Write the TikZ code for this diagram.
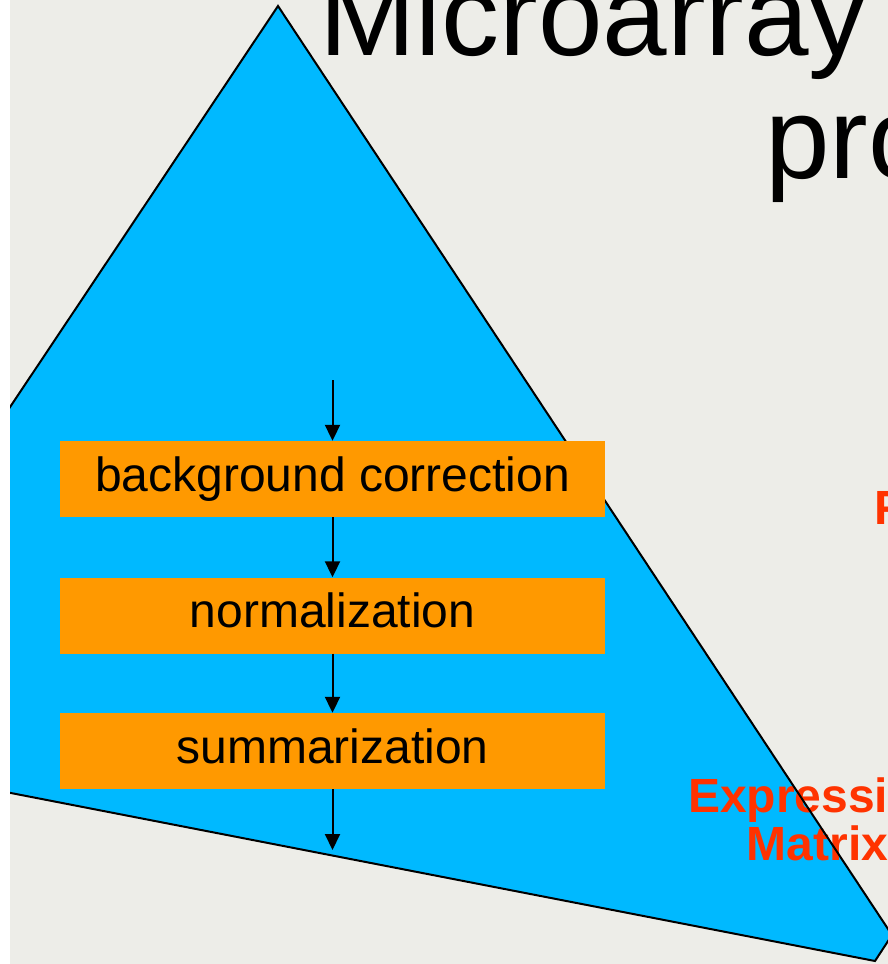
\documentclass[tikz,border=0pt]{standalone}
\usepackage{fontspec}
\setmainfont{Liberation Sans}
\usetikzlibrary{arrows.meta}

\definecolor{pagegray}{RGB}{237,237,232}
\definecolor{skyblue}{RGB}{0,185,255}
\definecolor{boxorange}{RGB}{255,153,0}
\definecolor{labelred}{RGB}{255,51,0}

\tikzset{
  stagebox/.style={fill=boxorange, minimum width=545pt, minimum height=76pt,
    inner sep=0pt, text height=34pt, text depth=10pt,
    font=\fontsize{48}{52}\selectfont},
  flowarrow/.style={-{Triangle[length=16pt,width=15pt]}, line width=2pt},
  redlabel/.style={text=labelred, anchor=base west, inner sep=0pt,
    font=\fontsize{48}{48}\bfseries\selectfont},
  titletext/.style={anchor=base west, inner sep=0pt,
    font=\fontsize{116}{122}\selectfont},
  outline/.style={line width=2pt, line join=miter}
}

\begin{document}
\begin{tikzpicture}[x=1pt,y=-1pt]
  \useasboundingbox (0,0) rectangle (888,964);
  \clip (0,0) rectangle (888,964);

  % page: white margin strip on the left, gray slide area
  \fill[white] (0,0) rectangle (10,964);
  \fill[pagegray] (10,0) rectangle (888,964);

  % the blue pyramid region
  \begin{scope}
    \clip (10,0) rectangle (888,964);
    \fill[skyblue] (278,6) -- (892,935) -- (875,961) -- (-20,787) -- (-20,452) -- cycle;
  \end{scope}

  % red side labels
  \node[redlabel] (lblF) at (874.5,524) {F};
  \node[redlabel] (lblExpr) at (688,812) {Expressi};
  \node[redlabel] (lblMat) at (746.5,860) {Matrix};

  % pyramid outline
  \begin{scope}
    \clip (10,0) rectangle (888,964);
    \draw[outline] (278,6) -- (892,935) -- (875,961) -- (-20,787) -- (-20,452) -- cycle;
  \end{scope}

  % processing stages
  \node[stagebox] (bg) at (332.5,479) {background correction};
  \node[stagebox] (norm) at (332.5,615.5) {normalization};
  \node[stagebox] (summ) at (332.5,751) {summarization};

  \coordinate (inflow) at (332.5,380);
  \coordinate (outflow) at (332.5,850);

  \draw[flowarrow] (inflow) -- (bg.north);
  \draw[flowarrow] (bg.south) -- (norm.north);
  \draw[flowarrow] (norm.south) -- (summ.north);
  \draw[flowarrow] (summ.south) -- (outflow);

  % title
  \node[titletext] (title1) at (319,55) {Microarray};
  \node[titletext] (title2) at (765,178) {pro};
\end{tikzpicture}
\end{document}
